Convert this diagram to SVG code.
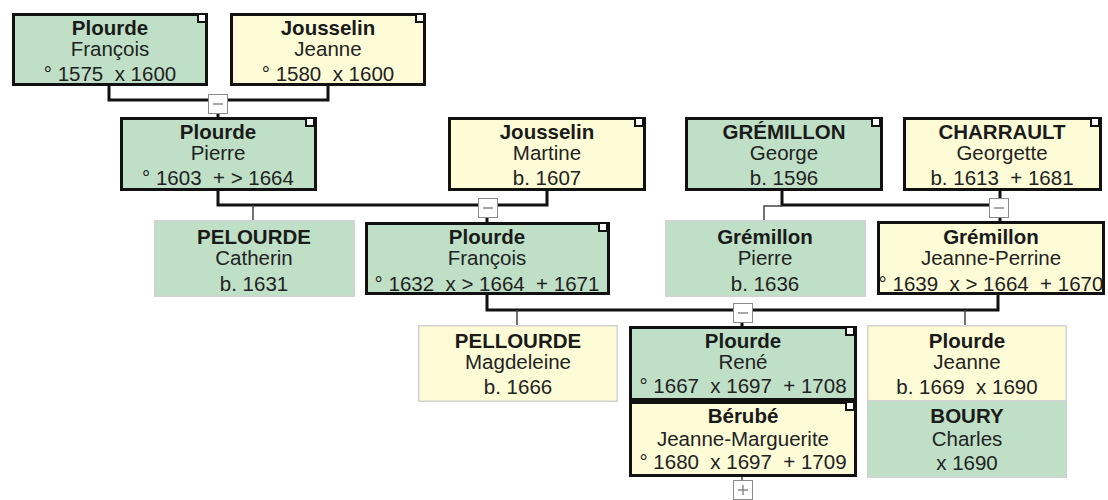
<svg xmlns="http://www.w3.org/2000/svg" width="1108" height="500" viewBox="0 0 1108 500">
<style>
.g{fill:#bfe0c6}
.y{fill:#fdfcd6}
.b{stroke:#111;stroke-width:3}
.t{stroke:#d2d2d2;stroke-width:1.5}
.c{fill:#fff;stroke:#111;stroke-width:2}
text{font-family:"Liberation Sans",Arial,sans-serif;font-size:20.5px;fill:#222;text-anchor:middle;white-space:pre}
.n{font-weight:bold;fill:#1a1a1a}
.k{fill:none;stroke:#111;stroke-width:3}
.s{fill:none;stroke:#444;stroke-width:1.5}
.m{fill:#fff;stroke:#8a8a8a;stroke-width:1}
.ms{stroke:#8a8a8a;stroke-width:1.5}
</style>
<rect width="1108" height="500" fill="#fff"/>
<g id="connectors">
<path class="k" d="M109,86V100H328V86"/>
<path class="k" d="M218,113V117"/>
<path class="k" d="M218,191V205H547V191"/>
<path class="k" d="M487,217V222"/>
<path class="s" d="M253,205V220"/>
<path class="k" d="M782,191V205H989"/>
<path class="k" d="M1000,191V198"/>
<path class="k" d="M1000,217V221"/>
<path class="s" d="M782,206H764V220"/>
<path class="k" d="M487,295V310H998V295"/>
<path class="k" d="M742,322V326"/>
<path class="s" d="M517,310V325"/>
<path class="s" d="M965,310V325"/>
<path class="s" d="M742,477V480"/>
<rect class="m" x="208.5" y="94.5" width="19" height="19"/><path class="ms" d="M213,104H223"/>
<rect class="m" x="478.5" y="198.5" width="19" height="19"/><path class="ms" d="M483,208H493"/>
<rect class="m" x="989.5" y="198.5" width="19" height="19"/><path class="ms" d="M994,208H1004"/>
<rect class="m" x="733.5" y="303.5" width="19" height="19"/><path class="ms" d="M738,313H748"/>
<rect class="m" x="733.5" y="480.5" width="19" height="19"/><path class="ms" d="M738,490H748M743,485V495"/>
</g>
<g id="n1"><rect class="g b" x="13.5" y="14.5" width="193" height="70"/><rect class="c" x="198" y="14" width="8" height="8"/>
<text class="n" x="110" y="35">Plourde</text><text x="110" y="56">François</text><text x="110" y="81">° 1575  x 1600</text></g>
<g id="n2"><rect class="y b" x="231.5" y="14.5" width="193" height="70"/><rect class="c" x="416" y="14" width="8" height="8"/>
<text class="n" x="328" y="35">Jousselin</text><text x="328" y="56">Jeanne</text><text x="328" y="81">° 1580  x 1600</text></g>
<g id="n3"><rect class="g b" x="121.5" y="118.5" width="194" height="71"/><rect class="c" x="306" y="118" width="8" height="8"/>
<text class="n" x="218" y="139">Plourde</text><text x="218" y="160">Pierre</text><text x="218" y="185">° 1603  + &gt; 1664</text></g>
<g id="n4"><rect class="y b" x="449.5" y="118.5" width="195" height="71"/><rect class="c" x="635" y="118" width="8" height="8"/>
<text class="n" x="547" y="139">Jousselin</text><text x="547" y="160">Martine</text><text x="547" y="185">b. 1607</text></g>
<g id="n5"><rect class="g b" x="686.5" y="118.5" width="195" height="71"/><rect class="c" x="872" y="118" width="8" height="8"/>
<text class="n" x="784" y="139">GRÉMILLON</text><text x="784" y="160">George</text><text x="784" y="185">b. 1596</text></g>
<g id="n6"><rect class="y b" x="904.5" y="118.5" width="196" height="71"/><rect class="c" x="1091" y="118" width="8" height="8"/>
<text class="n" x="1002" y="139">CHARRAULT</text><text x="1002" y="160">Georgette</text><text x="1002" y="185">b. 1613  + 1681</text></g>
<g id="n7"><rect class="g t" x="154.75" y="220.75" width="199.5" height="75.5"/>
<text class="n" x="254" y="244">PELOURDE</text><text x="254" y="265">Catherin</text><text x="254" y="291">b. 1631</text></g>
<g id="n8"><rect class="g b" x="366.5" y="223.5" width="242" height="70"/><rect class="c" x="599" y="223" width="8" height="8"/>
<text class="n" x="487" y="244">Plourde</text><text x="487" y="265">François</text><text x="487" y="291">° 1632  x &gt; 1664  + 1671</text></g>
<g id="n9"><rect class="g t" x="665.75" y="220.75" width="199.5" height="75.5"/>
<text class="n" x="765" y="244">Grémillon</text><text x="765" y="265">Pierre</text><text x="765" y="291">b. 1636</text></g>
<g id="n10"><rect class="y b" x="878.5" y="222.5" width="225" height="71"/>
<text class="n" x="991" y="244">Grémillon</text><text x="991" y="265">Jeanne-Perrine</text><text x="991" y="291">° 1639  x &gt; 1664  + 1670</text></g>
<g id="n11"><rect class="y t" x="418.75" y="325.75" width="198.5" height="75.5"/>
<text class="n" x="518" y="348">PELLOURDE</text><text x="518" y="369">Magdeleine</text><text x="518" y="394">b. 1666</text></g>
<g id="n12"><rect class="g b" x="630.5" y="327.5" width="225" height="72"/><rect class="c" x="846" y="327" width="8" height="8"/>
<text class="n" x="743" y="348">Plourde</text><text x="743" y="369">René</text><text x="743" y="393">° 1667  x 1697  + 1708</text></g>
<g id="n13"><rect class="y b" x="630.5" y="402.5" width="225" height="73"/><rect class="c" x="846" y="402" width="8" height="8"/>
<text class="n" x="743" y="423">Bérubé</text><text x="743" y="446">Jeanne-Marguerite</text><text x="743" y="469">° 1680  x 1697  + 1709</text></g>
<g id="n14"><rect class="y t" x="867.75" y="325.75" width="198.5" height="75"/>
<text class="n" x="967" y="348">Plourde</text><text x="967" y="369">Jeanne</text><text x="967" y="394">b. 1669  x 1690</text></g>
<g id="n15"><rect class="g t" x="867.75" y="400.75" width="198.5" height="76.5"/>
<text class="n" x="967" y="423">BOURY</text><text x="967" y="446">Charles</text><text x="967" y="470">x 1690</text></g>
</svg>
